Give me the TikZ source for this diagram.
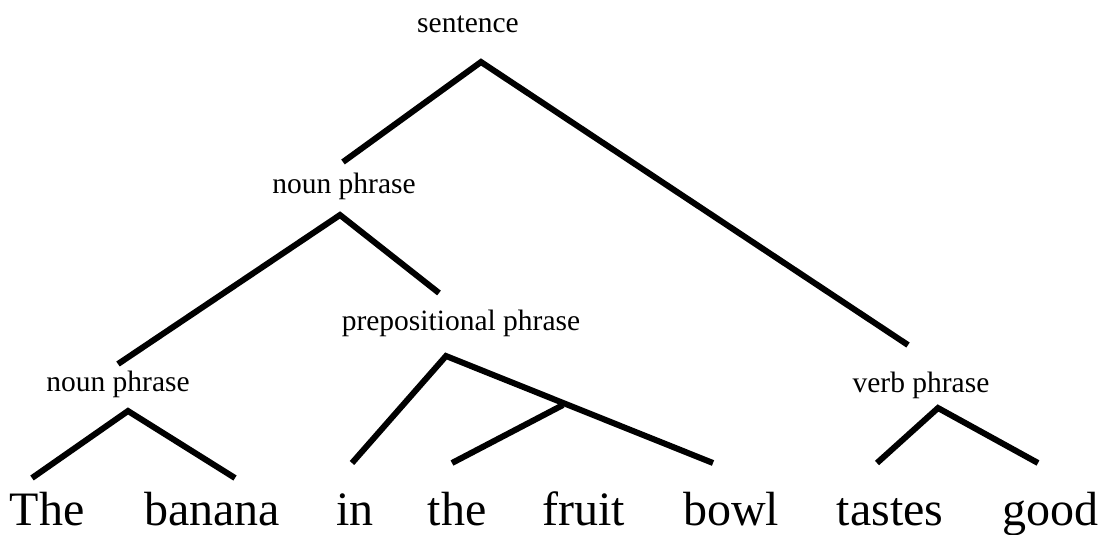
\documentclass[tikz,border=0pt]{standalone}
\usepackage{fontspec}
\setmainfont{Liberation Serif}
\usetikzlibrary{positioning}

\begin{document}
\begin{tikzpicture}[
    x=1pt, y=-1pt,
    lbl/.style={anchor=base, inner sep=0pt, font=\fontsize{29.5}{32}\selectfont},
    word/.style={anchor=base, inner sep=0pt, font=\fontsize{48}{52}\selectfont},
    br/.style={line width=6pt, line join=miter}
]
\useasboundingbox (0,0) rectangle (1109,535);

\node[lbl] (s) at (468,33) {sentence};
\node[lbl] (np) at (344,193) {noun phrase};
\node[lbl] (pp) at (461,330) {prepositional phrase};
\node[lbl] (npl) at (118,391) {noun phrase};
\node[lbl] (vp) at (921,392) {verb phrase};

\node[word] (the1) at (47,525) {The};
\node[word] (banana) at (212,525) {banana};
\node[word] (in) at (355,525) {in};
\node[word] (the2) at (457,525) {the};
\node[word] (fruit) at (584,525) {fruit};
\node[word] (bowl) at (731,525) {bowl};
\node[word] (tastes) at (890,525) {tastes};
\node[word] (good) at (1050,525) {good};

\coordinate (s-top) at (481,62);
\coordinate (s-l) at (343,162);
\coordinate (s-r) at (908,345);
\coordinate (np-top) at (340,215);
\coordinate (np-l) at (118,364);
\coordinate (np-r) at (439,293);
\coordinate (pp-top) at (446,356);
\coordinate (pp-l) at (352,463);
\coordinate (pp-r) at (713,463);
\coordinate (pp-mid) at (563,405);
\coordinate (pp-m) at (452,463);
\coordinate (npl-top) at (128,411);
\coordinate (npl-l) at (32,478);
\coordinate (npl-r) at (235,478);
\coordinate (vp-top) at (938,408);
\coordinate (vp-l) at (877,463);
\coordinate (vp-r) at (1038,463);

\draw[br] (s-l) -- (s-top) -- (s-r);
\draw[br] (np-l) -- (np-top) -- (np-r);
\draw[br] (pp-l) -- (pp-top) -- (pp-r);
\draw[br] (pp-mid) -- (pp-m);
\draw[br] (npl-l) -- (npl-top) -- (npl-r);
\draw[br] (vp-l) -- (vp-top) -- (vp-r);
\end{tikzpicture}
\end{document}
